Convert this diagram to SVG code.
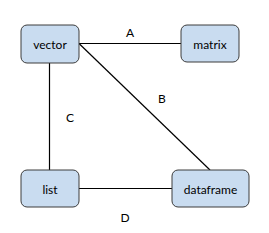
<svg xmlns="http://www.w3.org/2000/svg" width="269" height="233" viewBox="0 0 269 233">
<style>
.n{fill:#c9dcf0;stroke:#3c3c3c;stroke-width:1}
.t{font-family:Lato,"Open Sans",sans-serif;font-size:12px;fill:#000;text-anchor:middle;dominant-baseline:central}
.e{stroke:#000;stroke-width:1.2;fill:none}
</style>
<rect width="269" height="233" fill="#fff"/>
<g id="edges">
<line class="e" x1="79" y1="43.5" x2="181" y2="43.5"/>
<line class="e" x1="79" y1="43.5" x2="210" y2="170"/>
<line class="e" x1="49.5" y1="63" x2="49.5" y2="170"/>
<line class="e" x1="79" y1="188.5" x2="172" y2="188.5"/>
<text class="t" x="130" y="32">A</text>
<text class="t" x="162" y="98">B</text>
<text class="t" x="70" y="117">C</text>
<text class="t" x="125" y="217">D</text>
</g>
<g id="vector"><rect class="n" x="21" y="25" width="58" height="38" rx="6"/><text class="t" x="50" y="44">vector</text></g>
<g id="matrix"><rect class="n" x="181" y="25" width="58" height="37" rx="6"/><text class="t" x="210" y="44">matrix</text></g>
<g id="list"><rect class="n" x="21" y="170" width="58" height="37" rx="6"/><text class="t" x="50" y="189">list</text></g>
<g id="dataframe"><rect class="n" x="172" y="170" width="77" height="37" rx="6"/><text class="t" x="210.5" y="189">dataframe</text></g>
</svg>
